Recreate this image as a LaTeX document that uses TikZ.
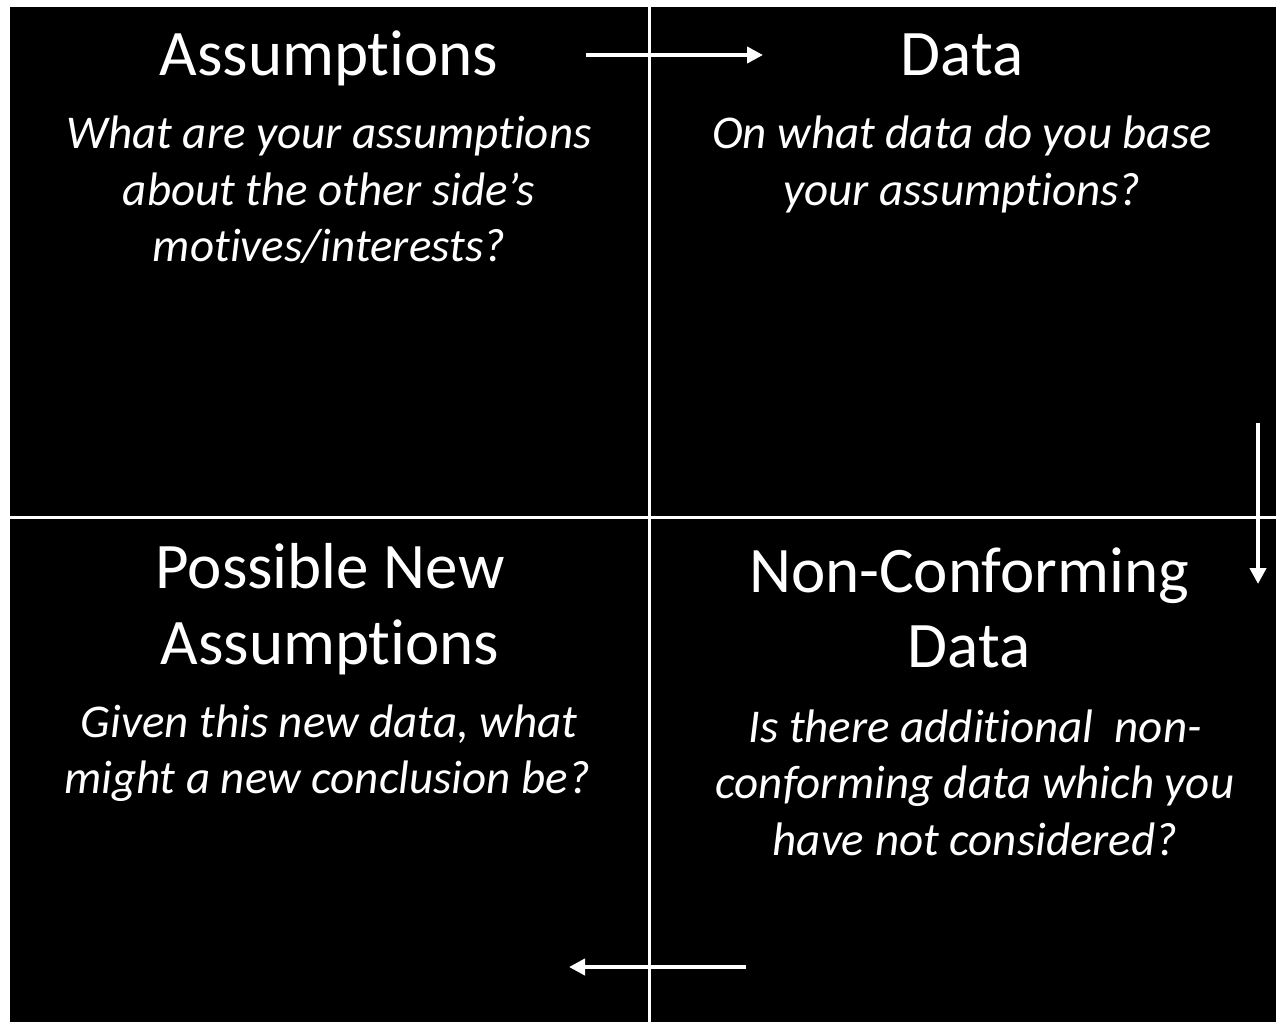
\documentclass[tikz,border=0pt]{standalone}
\usepackage{fontspec}
\setmainfont[RawFeature={-liga}]{Carlito}
\usetikzlibrary{arrows.meta}
\tikzset{
  head/.style={text=white, inner sep=0pt, anchor=base, font=\fontsize{65}{76}\selectfont},
  body/.style={text=white, inner sep=0pt, anchor=base, font=\fontsize{47}{57}\selectfont\itshape},
  grid/.style={draw=white, line width=3pt},
  flow/.style={draw=white, line width=4.5pt, -{Triangle[length=16pt, width=16pt]}}
}
\begin{document}
\begin{tikzpicture}[x=1pt, y=-1pt]
  \useasboundingbox (0,0) rectangle (1276,1022);
  \fill[white] (0,0) rectangle (1276,1022);
  \fill[black] (10,7) rectangle (1276,1022);

  % quadrant dividers
  \draw[grid] (649,7) -- (649,1022);
  \draw[grid] (10,517) -- (1276,517);

  % top left
  \node[head] (t1) at (329,76) {Assumptions};
  \node[body] (b1a) at (329,148) {What are your assumptions};
  \node[body] (b1b) at (329,205) {about the other side’s};
  \node[body] (b1c) at (329,261) {motives/interests?};

  % top right
  \node[head] (t2) at (962,76) {Data};
  \node[body] (b2a) at (962,148) {On what data do you base};
  \node[body] (b2b) at (962,205) {your assumptions?};

  % bottom right
  \node[head] (t3a) at (969,592) {Non-Conforming};
  \node[head] (t3b) at (969,667) {Data};
  \node[body] (b3a) at (975,742) {Is there additional~ non-};
  \node[body] (b3b) at (975,798) {conforming data which you};
  \node[body] (b3c) at (975,855) {have not considered?};

  % bottom left
  \node[head] (t4a) at (330,588) {Possible New};
  \node[head] (t4b) at (330,664) {Assumptions};
  \node[body] (b4a) at (329,737) {Given this new data, what};
  \node[body] (b4b) at (327,793) {might a new conclusion be?};

  % cycle arrows
  \coordinate (a1s) at (586,55);
  \coordinate (a1e) at (763,55);
  \coordinate (a2s) at (1258,423);
  \coordinate (a2e) at (1258,584);
  \coordinate (a3s) at (746,967);
  \coordinate (a3e) at (569,967);
  \draw[flow] (a1s) -- (a1e);
  \draw[flow] (a2s) -- (a2e);
  \draw[flow] (a3s) -- (a3e);
\end{tikzpicture}
\end{document}
